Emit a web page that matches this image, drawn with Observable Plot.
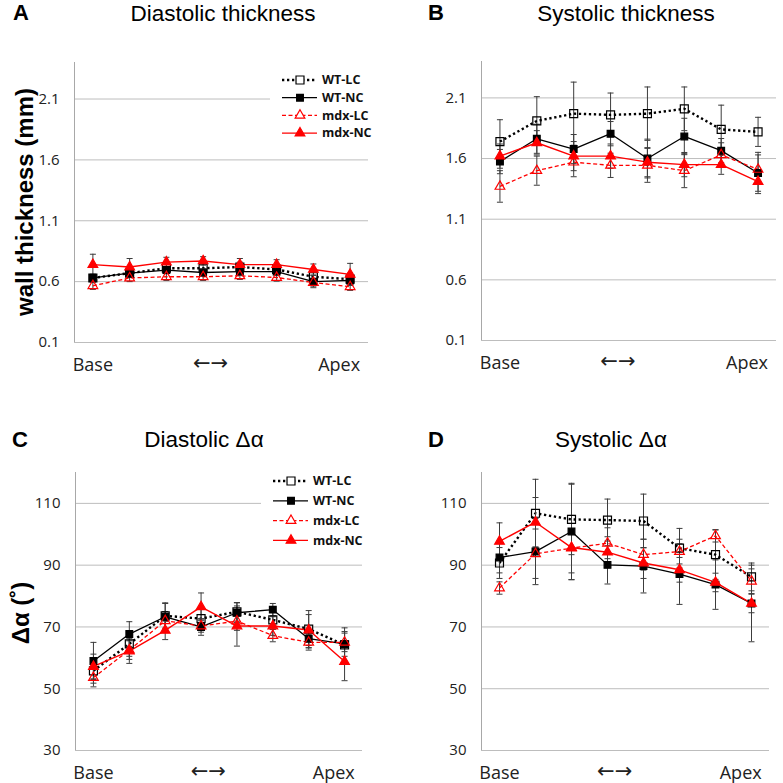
<!DOCTYPE html>
<html><head><meta charset="utf-8">
<script src="https://cdn.jsdelivr.net/npm/d3@7"></script>
<script src="https://cdn.jsdelivr.net/npm/@observablehq/plot@0.6"></script>
<style>
body{margin:0;background:#fff;}
#root{position:relative;width:783px;height:783px;overflow:hidden;background:#fff;}
.panel{position:absolute;}
#overlay{position:absolute;left:0;top:0;pointer-events:none;}
</style></head><body><div id="root"></div>
<script>
// ---------- data ----------
const positions = [1, 2, 3, 4, 5, 6, 7, 8];
const seriesNames = ["WT-LC", "WT-NC", "mdx-LC", "mdx-NC"];
const xTickLabels = ["Base", "←→", "Apex"];
const xTickPositions = [1, 4.2, 7.7];
const thicknessTicks = [0.1, 0.6, 1.1, 1.6, 2.1];
const angleTicks = [30, 50, 70, 90, 110];

// A: Diastolic thickness (mm)
const diaThickWTLC = [0.63, 0.67, 0.71, 0.71, 0.72, 0.70, 0.64, 0.62];
const diaThickWTLCerr = [0.03, 0.03, 0.04, 0.04, 0.04, 0.03, 0.04, 0.05];
const diaThickWTNC = [0.63, 0.67, 0.695, 0.675, 0.683, 0.683, 0.60, 0.61];
const diaThickWTNCerr = [0.03, 0.03, 0.03, 0.03, 0.03, 0.03, 0.05, 0.04];
const diaThickMdxLC = [0.566, 0.63, 0.64, 0.64, 0.648, 0.634, 0.593, 0.558];
const diaThickMdxLCerr = [0.03, 0.03, 0.03, 0.03, 0.03, 0.03, 0.03, 0.03];
const diaThickMdxNC = [0.74, 0.72, 0.76, 0.77, 0.74, 0.74, 0.70, 0.66];
const diaThickMdxNCerr = [0.085, 0.07, 0.04, 0.035, 0.05, 0.04, 0.045, 0.09];

// B: Systolic thickness (mm)
const sysThickWTLC = [1.74, 1.91, 1.97, 1.96, 1.97, 2.01, 1.84, 1.82];
const sysThickWTLCerr = [0.18, 0.2, 0.26, 0.18, 0.22, 0.18, 0.2, 0.12];
const sysThickWTNC = [1.575, 1.763, 1.678, 1.805, 1.60, 1.782, 1.665, 1.481];
const sysThickWTNCerr = [0.1, 0.12, 0.12, 0.1, 0.16, 0.15, 0.1, 0.17];
const sysThickMdxLC = [1.37, 1.50, 1.57, 1.544, 1.544, 1.50, 1.63, 1.51];
const sysThickMdxLCerr = [0.13, 0.12, 0.12, 0.1, 0.14, 0.14, 0.1, 0.12];
const sysThickMdxNC = [1.62, 1.73, 1.62, 1.62, 1.57, 1.55, 1.55, 1.41];
const sysThickMdxNCerr = [0.1, 0.1, 0.12, 0.1, 0.12, 0.1, 0.08, 0.08];

// C: Diastolic delta alpha (deg)
const diaAngWTLC = [55.8, 64.5, 73.6, 72.7, 74.9, 72.3, 69.3, 64.2];
const diaAngWTLCerr = [4, 4, 4, 3, 3, 3, 6, 5.5];
const diaAngWTNC = [59.0, 67.7, 73.3, 70.0, 74.6, 75.6, 66.2, 64.5];
const diaAngWTNCerr = [6, 4, 4.5, 2.7, 3.2, 2, 3, 4];
const diaAngMdxLC = [53.6, 62.5, 72.0, 70.3, 71.9, 67.2, 65.0, 65.0];
const diaAngMdxLCerr = [3, 3, 3, 2, 3, 2, 2.5, 3];
const diaAngMdxNC = [57.2, 62.2, 68.9, 76.5, 70.3, 70.3, 69.0, 58.8];
const diaAngMdxNCerr = [4, 4, 3, 4.5, 6.5, 3, 5, 6.2];

// D: Systolic delta alpha (deg)
const sysAngWTLC = [90.7, 106.8, 104.8, 104.6, 104.3, 95.5, 93.4, 86.2];
const sysAngWTLCerr = [5, 11, 11.4, 6.8, 8.7, 6.4, 8, 4.5];
const sysAngWTNC = [92.5, 94.4, 100.9, 90.1, 89.7, 87.1, 83.7, 77.6];
const sysAngWTNCerr = [5, 10.7, 15.6, 6.2, 8.7, 9.8, 8, 12.4];
const sysAngMdxLC = [82.6, 93.7, 95.5, 97.1, 93.4, 94.4, 99.5, 84.8];
const sysAngMdxLCerr = [2, 8, 8, 5, 5, 4, 2, 4];
const sysAngMdxNC = [97.7, 103.9, 95.7, 94.2, 90.7, 88.5, 84.4, 77.6];
const sysAngMdxNCerr = [6, 8, 10.4, 5, 5, 4, 3, 3];

// ---------- styles ----------
const RED = "#ff0000";
const seriesStyle = {
  "WT-LC":  {stroke: "#000", width: 2.4, dash: "2.3,2.7", symbol: "square", r: 4.5, fill: "none", mstroke: "#000"},
  "WT-NC":  {stroke: "#000", width: 1.3, dash: null, symbol: "square", r: 3.8, fill: "#000", mstroke: "#000"},
  "mdx-LC": {stroke: RED, width: 1.3, dash: "4,2.5", symbol: "triangle", r: 3.6, fill: "none", mstroke: RED},
  "mdx-NC": {stroke: RED, width: 1.4, dash: null, symbol: "triangle", r: 3.6, fill: RED, mstroke: RED}
};
const capSymbol = {draw(ctx, size) { const w = Math.sqrt(size) / 2; ctx.moveTo(-w, 0); ctx.lineTo(w, 0); }};
const ERR = "#3c3c3c";
const GRID = "#bdbdbd";

function buildRows(means, errs) {
  return seriesNames.flatMap((name, si) => positions.map((p, i) => ({series: name, pos: p, mean: means[si][i], err: errs[si][i]})));
}

const panels = [
  {left: 0, top: 0, width: 390, height: 390, mL: 74, mR: 22, mT: 62, mB: 48, domain: [0.1, 2.4], ticks: thicknessTicks, fmt: d3.format(".1f"),
   rows: buildRows([diaThickWTLC, diaThickWTNC, diaThickMdxLC, diaThickMdxNC], [diaThickWTLCerr, diaThickWTNCerr, diaThickMdxLCerr, diaThickMdxNCerr])},
  {left: 390, top: 0, width: 393, height: 390, mL: 91, mR: 7, mT: 61, mB: 50, domain: [0.1, 2.4], ticks: thicknessTicks, fmt: d3.format(".1f"),
   rows: buildRows([sysThickWTLC, sysThickWTNC, sysThickMdxLC, sysThickMdxNC], [sysThickWTLCerr, sysThickWTNCerr, sysThickMdxLCerr, sysThickMdxNCerr])},
  {left: 0, top: 390, width: 390, height: 393, mL: 75, mR: 28, mT: 82, mB: 33, domain: [30, 120], ticks: angleTicks, fmt: d3.format("d"),
   rows: buildRows([diaAngWTLC, diaAngWTNC, diaAngMdxLC, diaAngMdxNC], [diaAngWTLCerr, diaAngWTNCerr, diaAngMdxLCerr, diaAngMdxNCerr])},
  {left: 390, top: 390, width: 393, height: 393, mL: 91, mR: 14, mT: 82, mB: 33, domain: [30, 120], ticks: angleTicks, fmt: d3.format("d"),
   rows: buildRows([sysAngWTLC, sysAngWTNC, sysAngMdxLC, sysAngMdxNC], [sysAngWTLCerr, sysAngWTNCerr, sysAngMdxLCerr, sysAngMdxNCerr])}
];

const root = document.getElementById("root");
const isArrow = (d) => d === "←→";

for (const p of panels) {
  const marks = [
    Plot.gridY(p.ticks, {stroke: GRID, strokeOpacity: 1, strokeWidth: 1}),
    Plot.ruleX([0.5], {stroke: "#a8a8a8", strokeWidth: 1}),
    Plot.axisY(p.ticks, {tickSize: 0, tickPadding: 15, fontSize: 15, fontFamily: "Open Sans", fill: "#222", tickFormat: p.fmt, label: null}),
    Plot.text(xTickLabels, {filter: d => !isArrow(d), x: (d) => xTickPositions[xTickLabels.indexOf(d)], text: d => d, frameAnchor: "bottom", dy: 28, fontSize: 18, fontFamily: "Open Sans", fill: "#222"}),
    Plot.text(xTickLabels, {filter: isArrow, x: (d) => xTickPositions[xTickLabels.indexOf(d)], text: d => d, frameAnchor: "bottom", dy: 27, fontSize: 21, fontFamily: "DejaVu Sans", fill: "#222"})
  ];
  for (const name of seriesNames) {
    const s = seriesStyle[name];
    const rows = p.rows.filter(d => d.series === name);
    marks.push(
      Plot.ruleX(rows, {x: "pos", y1: d => d.mean - d.err, y2: d => d.mean + d.err, stroke: ERR, strokeWidth: 1}),
      Plot.dot(rows, {x: "pos", y: d => d.mean + d.err, symbol: capSymbol, r: 3.4, stroke: ERR, fill: "none", strokeWidth: 1}),
      Plot.dot(rows, {x: "pos", y: d => d.mean - d.err, symbol: capSymbol, r: 3.4, stroke: ERR, fill: "none", strokeWidth: 1}),
      Plot.line(rows, {x: "pos", y: "mean", stroke: s.stroke, strokeWidth: s.width, strokeDasharray: s.dash ?? undefined, strokeLinecap: "butt"})
    );
  }
  for (const name of seriesNames) {
    const s = seriesStyle[name];
    const rows = p.rows.filter(d => d.series === name);
    marks.push(Plot.dot(rows, {x: "pos", y: "mean", symbol: s.symbol, r: s.r, fill: s.fill, stroke: s.mstroke, strokeWidth: 1.2}));
  }
  const svg = Plot.plot({
    width: p.width, height: p.height,
    marginLeft: p.mL, marginRight: p.mR, marginTop: p.mT, marginBottom: p.mB,
    x: {type: "linear", domain: [0.5, 8.5], axis: null},
    y: {domain: p.domain, axis: null},
    style: {background: "transparent", overflow: "visible"},
    marks
  });
  const div = document.createElement("div");
  div.className = "panel";
  div.style.left = p.left + "px";
  div.style.top = p.top + "px";
  div.appendChild(svg);
  root.appendChild(div);
}

// ---------- overlay: titles, letters, axis labels, legends ----------
const overlay = d3.select(root).append("svg").attr("id", "overlay").attr("width", 783).attr("height", 783);
const titleFont = "'Liberation Sans', Arial, sans-serif";
const panelLetters = ["A", "B", "C", "D"];
const panelTitles = ["Diastolic thickness", "Systolic thickness", "Diastolic Δα", "Systolic Δα"];
const letterPos = [[13, 20], [428, 20], [12, 447], [428, 447]];
const titlePos = [[223, 21], [626, 21], [204, 447], [611, 447]];
panelLetters.forEach((l, i) => {
  overlay.append("text").attr("x", letterPos[i][0]).attr("y", letterPos[i][1]).attr("font-family", titleFont)
    .attr("font-size", 22).attr("font-weight", "bold").text(l);
  overlay.append("text").attr("x", titlePos[i][0]).attr("y", titlePos[i][1]).attr("font-family", titleFont)
    .attr("font-size", 22.5).attr("text-anchor", "middle").text(panelTitles[i]);
});
const yLabels = ["wall thickness (mm)", "Δα (˚)"];
const yLabelPos = [[33, 202], [29, 613]];
yLabels.forEach((t, i) => {
  overlay.append("text").attr("transform", `translate(${yLabelPos[i][0]},${yLabelPos[i][1]}) rotate(-90)`)
    .attr("font-family", titleFont).attr("font-size", 24).attr("font-weight", "bold").attr("text-anchor", "middle").text(t);
});

function legend(x0, y0, step) {
  const g = overlay.append("g");
  g.append("rect").attr("x", x0 - 12).attr("y", y0 - 12).attr("width", 108).attr("height", step * 3 + 24).attr("fill", "#fff");
  seriesNames.forEach((name, i) => {
    const s = seriesStyle[name];
    const y = y0 + i * step;
    g.append("line").attr("x1", x0).attr("x2", x0 + 35).attr("y1", y).attr("y2", y)
      .attr("stroke", s.stroke).attr("stroke-width", s.width).attr("stroke-dasharray", s.dash);
    const sym = s.symbol === "square" ? d3.symbolSquare : d3.symbolTriangle;
    g.append("path").attr("d", d3.symbol(sym, Math.PI * s.r * s.r)()).attr("transform", `translate(${x0 + 18},${y})`)
      .attr("fill", s.fill === "none" ? "#fff" : s.fill).attr("stroke", s.mstroke).attr("stroke-width", 1.2);
    g.append("text").attr("x", x0 + 40).attr("y", y).attr("dy", "0.35em").attr("font-family", "'Open Sans', sans-serif")
      .attr("font-size", 12.5).attr("font-weight", "bold").attr("fill", "#111").text(name);
  });
}
legend(282, 80, 17.7);
legend(273, 481, 19.8);
</script></body></html>
